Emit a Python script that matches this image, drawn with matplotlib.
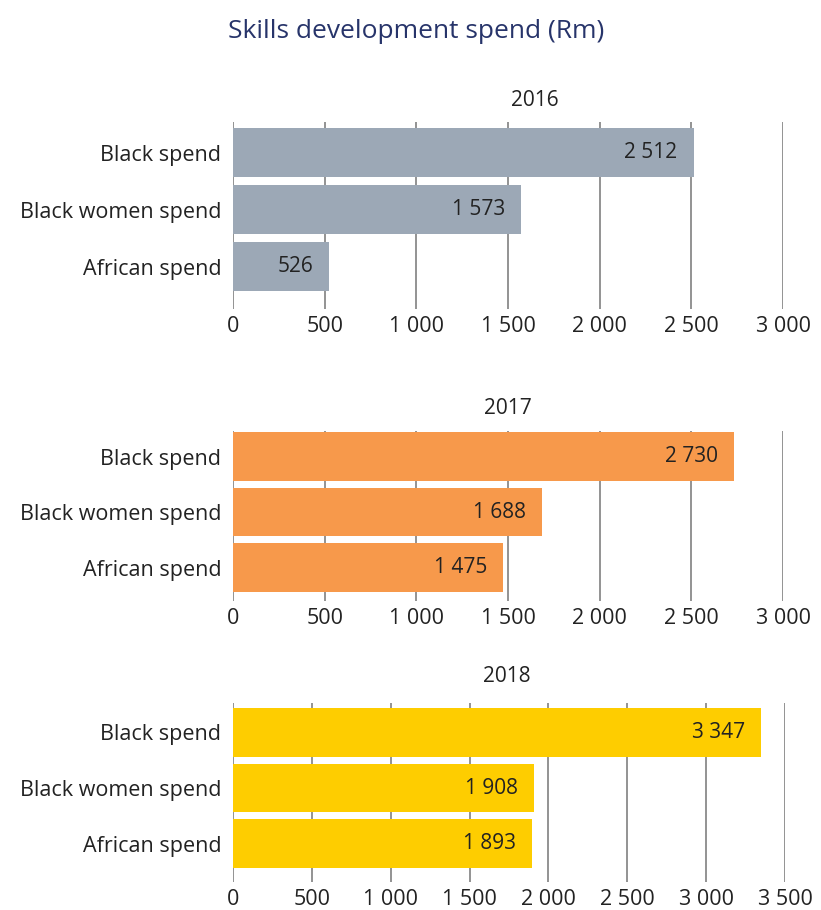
import matplotlib
matplotlib.use("Agg")
import matplotlib.pyplot as plt

plt.rcParams['font.family'] = ['Open Sans', 'DejaVu Sans']

# spend per group, Rm
categories = ['Black spend', 'Black women spend', 'African spend']
years = ['2016', '2017', '2018']
spend_2016 = [2512, 1573, 526]
spend_2017 = [2730, 1688, 1475]
spend_2018 = [3347, 1908, 1893]
spend = [spend_2016, spend_2017, spend_2018]
bar_colors = ['#9ca8b6', '#f7994b', '#fecd00']
xmax = [3000, 3000, 3500]
ticks = [[0, 500, 1000, 1500, 2000, 2500, 3000],
         [0, 500, 1000, 1500, 2000, 2500, 3000],
         [0, 500, 1000, 1500, 2000, 2500, 3000, 3500]]

W, H = 821, 910
TEXT = '#222222'


def fmt(v):
    s = f"{v:,}".replace(",", " ")
    return s


fig = plt.figure(figsize=(W / 100, H / 100), dpi=100)

fig.text(416 / W, 1 - 31 / H, 'Skills development spend (Rm)', ha='center', va='center',
         fontsize=19, color='#27346a')

# panel boxes in pixels: left, right, top, bottom, ylim (bottom, top), year label x (axes frac), year label y px
panels = [
    (233, 783, 122, 309, (2.745, -0.535), 0.549, 100),
    (233, 783, 431, 601, (2.60, -0.46), 0.5, 409),
    (233, 785, 703, 882, (2.69, -0.53), 0.496, 677),
]

for k, (l, r, t, b, ylim, yx, yy) in enumerate(panels):
    ax = fig.add_axes([l / W, 1 - b / H, (r - l) / W, (b - t) / H])
    ypos = range(len(categories))
    ax.barh(ypos, spend[k], height=0.875, color=bar_colors[k], zorder=2)
    for i, v in enumerate(spend[k]):
        ax.annotate(fmt(v), (v, i), xytext=(-11.5, 0), textcoords='offset points',
                    ha='right', va='center', fontsize=15, color=TEXT, zorder=3)
    ax.set_xlim(0, xmax[k])
    ax.set_ylim(*ylim)
    ax.set_xticks(ticks[k])
    ax.set_xticklabels([fmt(v) for v in ticks[k]], fontsize=15.5, color=TEXT)
    ax.set_yticks(list(ypos))
    ax.set_yticklabels(categories, fontsize=15.5, color=TEXT)
    ax.tick_params(axis='both', length=0)
    ax.tick_params(axis='x', pad=5)
    ax.tick_params(axis='y', pad=8.5)
    ax.xaxis.grid(True, color='#8a8a8a', linewidth=1.3, zorder=0)
    ax.set_axisbelow(True)
    for s in ax.spines.values():
        s.set_visible(False)
    fig.text((l + yx * (r - l)) / W, 1 - yy / H, years[k], ha='center', va='center',
             fontsize=15, color=TEXT)

fig.savefig('out.png', dpi=100, facecolor='white')
